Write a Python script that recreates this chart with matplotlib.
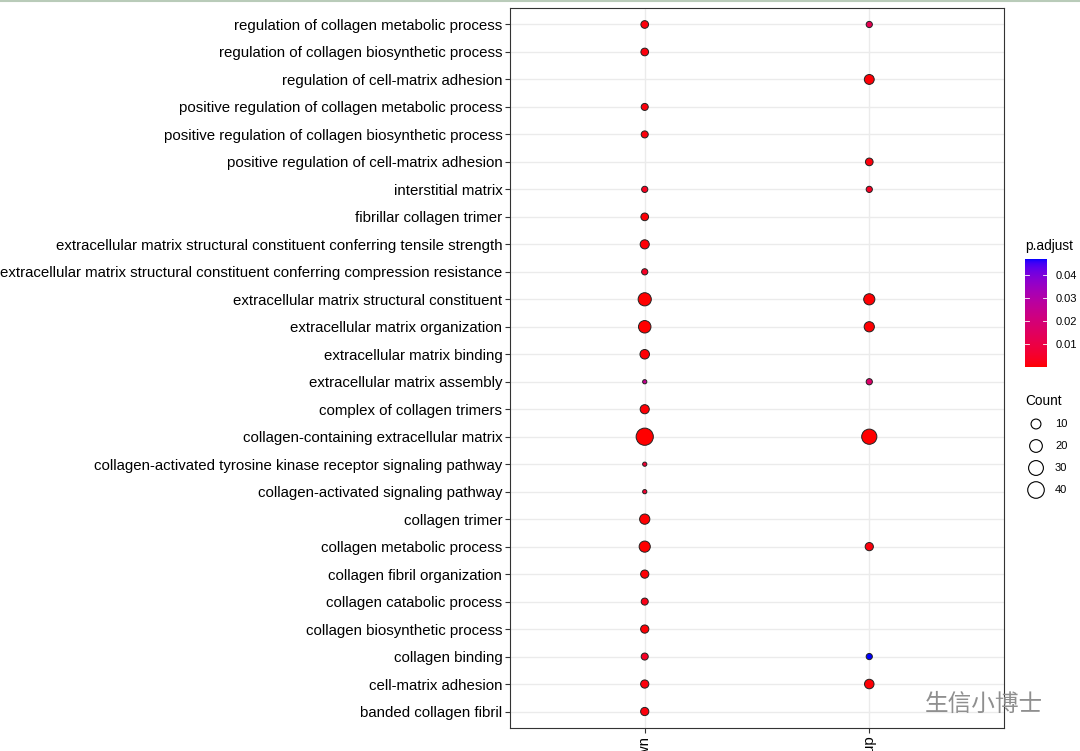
import numpy as np
import matplotlib
matplotlib.use("Agg")
import matplotlib.pyplot as plt
from matplotlib.colors import ListedColormap, Normalize

terms = [
    "regulation of collagen metabolic process",
    "regulation of collagen biosynthetic process",
    "regulation of cell-matrix adhesion",
    "positive regulation of collagen metabolic process",
    "positive regulation of collagen biosynthetic process",
    "positive regulation of cell-matrix adhesion",
    "interstitial matrix",
    "fibrillar collagen trimer",
    "extracellular matrix structural constituent conferring tensile strength",
    "extracellular matrix structural constituent conferring compression resistance",
    "extracellular matrix structural constituent",
    "extracellular matrix organization",
    "extracellular matrix binding",
    "extracellular matrix assembly",
    "complex of collagen trimers",
    "collagen-containing extracellular matrix",
    "collagen-activated tyrosine kinase receptor signaling pathway",
    "collagen-activated signaling pathway",
    "collagen trimer",
    "collagen metabolic process",
    "collagen fibril organization",
    "collagen catabolic process",
    "collagen biosynthetic process",
    "collagen binding",
    "cell-matrix adhesion",
    "banded collagen fibril",
]
groups = ["down", "up"]
nan = np.nan
down_count = [5, 5, nan, 4, 4, nan, 3, 5, 8, 3, 22, 19, 9, 2, 8, 44, 2, 2, 11, 14, 6, 4, 6, 4, 6, 6]
down_padj = [0.001, 0.001, nan, 0.001, 0.001, nan, 0.003, 0.0005, 0.0005, 0.004, 1e-8, 1e-8, 0.0005,
             0.025, 0.0005, 1e-8, 0.006, 0.006, 0.0002, 0.0001, 0.0005, 0.002, 0.0005, 0.004, 0.001, 0.001]
up_count = [3, nan, 10, nan, nan, 5, 3, nan, nan, nan, 14, 11, nan, 3, nan, 32, nan, nan, nan, 6, nan, nan, nan, 3, 9, nan]
up_padj = [0.012, nan, 0.0005, nan, nan, 0.001, 0.004, nan, nan, nan, 0.0002, 0.0002, nan, 0.017, nan, 1e-6,
           nan, nan, nan, 0.001, nan, nan, nan, 0.047, 0.0005, nan]
legend_counts = [10, 20, 30, 40]
cbar_ticks = [0.01, 0.02, 0.03, 0.04]

# ---- Lab interpolated red->blue gradient (like ggplot) ----
def srgb_to_lab(rgb):
    rgb = np.asarray(rgb, float)
    lin = np.where(rgb <= 0.04045, rgb / 12.92, ((rgb + 0.055) / 1.055) ** 2.4)
    M = np.array([[0.4124, 0.3576, 0.1805], [0.2126, 0.7152, 0.0722], [0.0193, 0.1192, 0.9505]])
    xyz = lin @ M.T
    xyz = xyz / np.array([0.95047, 1.0, 1.08883])
    f = np.where(xyz > 0.008856, np.cbrt(xyz), 7.787 * xyz + 16 / 116)
    L = 116 * f[..., 1] - 16
    a = 500 * (f[..., 0] - f[..., 1])
    b = 200 * (f[..., 1] - f[..., 2])
    return np.stack([L, a, b], -1)

def lab_to_srgb(lab):
    L, a, b = lab[..., 0], lab[..., 1], lab[..., 2]
    fy = (L + 16) / 116
    fx = fy + a / 500
    fz = fy - b / 200
    f = np.stack([fx, fy, fz], -1)
    xyz = np.where(f ** 3 > 0.008856, f ** 3, (f - 16 / 116) / 7.787)
    xyz = xyz * np.array([0.95047, 1.0, 1.08883])
    Minv = np.array([[3.2406, -1.5372, -0.4986], [-0.9689, 1.8758, 0.0415], [0.0557, -0.2040, 1.0570]])
    lin = xyz @ Minv.T
    lin = np.clip(lin, 0, 1)
    rgb = np.where(lin <= 0.0031308, 12.92 * lin, 1.055 * lin ** (1 / 2.4) - 0.055)
    return np.clip(rgb, 0, 1)

t = np.linspace(0, 1, 256)[:, None]
lab_r = srgb_to_lab([1, 0, 0])
lab_b = srgb_to_lab([0, 0, 1])
cmap = ListedColormap(lab_to_srgb(lab_r * (1 - t) + lab_b * t))

all_p = np.array([v for v in down_padj + up_padj if not np.isnan(v)])
norm = Normalize(vmin=all_p.min(), vmax=all_p.max())
all_c = np.array([v for v in down_count + up_count if not np.isnan(v)])
cmin, cmax = all_c.min(), all_c.max()
DMIN, DMAX = 4.2, 17.2  # px diameters

def size_pts2(c):
    c = np.asarray(c, float)
    d = DMIN + (DMAX - DMIN) * np.sqrt((c - cmin) / (cmax - cmin))
    return (d * 0.72) ** 2

W, H = 1080, 751
fig = plt.figure(figsize=(W / 100, H / 100), dpi=100)
plt.rcParams['font.family'] = ['Liberation Sans', 'DejaVu Sans']
L, R, T, B = 510, 1004, 8, 728
ax = fig.add_axes([L / W, 1 - B / H, (R - L) / W, (B - T) / H])
n = len(terms)
ypos = np.arange(n)[::-1]

for gi, (cnt, pv) in enumerate([(down_count, down_padj), (up_count, up_padj)]):
    cnt = np.array(cnt, float)
    pv = np.array(pv, float)
    m = ~np.isnan(cnt)
    ax.scatter(np.full(m.sum(), gi), ypos[m], s=size_pts2(cnt[m]), c=pv[m], cmap=cmap, norm=norm,
               edgecolors="#222222", linewidths=0.7, zorder=3)

ax.set_xlim(-0.6, 1.6)
ax.set_ylim(-0.6, n - 1 + 0.6)
ax.set_xticks([0, 1])
ax.set_xticklabels(groups, rotation=90, va="top", ha="center", fontsize=10.8)
ax.set_yticks(ypos)
ax.set_yticklabels(terms, fontsize=10.8)
ax.tick_params(axis="both", length=3.5, width=0.8, color="#333333", pad=2.0, labelcolor="black")
ax.grid(True, color="#EBEBEB", linewidth=1.0, zorder=0)
ax.set_axisbelow(True)
for s in ax.spines.values():
    s.set_color("#333333")
    s.set_linewidth(0.8)

# colorbar
cax = fig.add_axes([1025 / W, 1 - 367 / H, 22 / W, 108 / H])
grad = np.linspace(norm.vmin, norm.vmax, 256)[:, None]
cax.imshow(grad, aspect="auto", cmap=cmap, norm=norm, origin="lower",
           extent=[0, 1, norm.vmin, norm.vmax])
cax.set_xlim(0, 1)
cax.set_ylim(norm.vmin, norm.vmax)
cax.set_xticks([])
cax.yaxis.tick_right()
cax.set_yticks(cbar_ticks)
cax.set_yticklabels([f"{v:.2f}" for v in cbar_ticks], fontsize=8)
cax.tick_params(axis="y", length=0, pad=6)
for v in cbar_ticks:
    cax.plot([0, 0.2], [v, v], color="white", lw=0.6)
    cax.plot([0.8, 1], [v, v], color="white", lw=0.6)
for s in cax.spines.values():
    s.set_visible(False)
fig.text(1025 / W, 1 - 246 / H, "p.adjust", fontsize=9.8, ha="left", va="center")

# size legend
fig.text(1025 / W, 1 - 401 / H, "Count", fontsize=9.8, ha="left", va="center")
leg_y = [424, 446, 468, 490]
lax = fig.add_axes([0, 0, 1, 1], facecolor="none")
lax.set_xlim(0, W)
lax.set_ylim(H, 0)
lax.axis("off")
lax.scatter([1036] * 4, leg_y, s=size_pts2(legend_counts), facecolors="none", edgecolors="black", linewidths=0.8)
for c, y in zip(legend_counts, leg_y):
    lax.text(1055, y, str(c), fontsize=8, ha="left", va="center")

# top border line and watermark
lax.plot([0, W], [1, 1], color="#b9cbb9", lw=1.5)
lax.text(1043, 704, "生信小博士", fontsize=17, ha="right", va="center", color="#8f8f8f",
         family=["Noto Sans CJK SC", "DejaVu Sans"])

fig.savefig("out.png", dpi=100, facecolor="white")
